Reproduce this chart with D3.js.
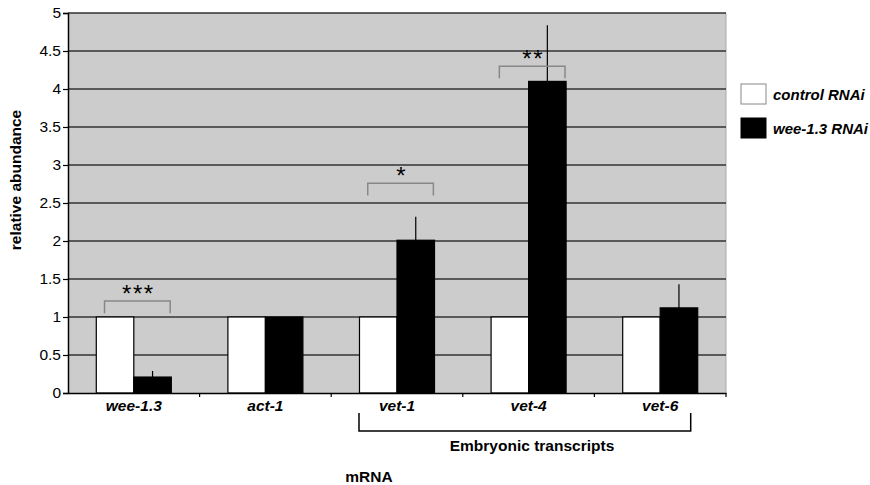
<!DOCTYPE html>
<html><head><meta charset="utf-8">
<script src="https://cdn.jsdelivr.net/npm/d3@7"></script>
<style>body{margin:0;background:#fff}svg{display:block}text{font-family:Arial,"Liberation Sans",sans-serif}</style>
</head><body><svg id="c" width="870" height="485"></svg>
<script>
const categories = ["wee-1.3","act-1","vet-1","vet-4","vet-6"];
const seriesNames = ["control RNAi","wee-1.3 RNAi"];
const controlValues = [1,1,1,1,1];
const weeValues = [0.21,1.0,2.01,4.1,1.12];
const weeErrors = [0.08,0,0.31,0.74,0.31];
const yTicks = [0,0.5,1,1.5,2,2.5,3,3.5,4,4.5,5];
const sigLabels = ["***","","*","**",""];
const sigLevels = [1.21,null,2.76,4.3,null];
const groupLabel = "Embryonic transcripts";

const svg = d3.select("#c");
const m = {l:68, r:726, t:13, b:393};
const x = d3.scaleBand().domain(categories).range([m.l,m.r]);
const inner = d3.scaleBand().domain([0,1]).range([x.bandwidth()*0.215, x.bandwidth()*0.785]);
const y = d3.scaleLinear().domain([0,5]).range([m.b,m.t]);
const FONT = "Arial,'Liberation Sans',sans-serif";

svg.append("rect").attr("x",m.l).attr("y",m.t).attr("width",m.r-m.l).attr("height",m.b-m.t).attr("fill","#cccccc");
svg.append("line").attr("x1",m.r).attr("x2",m.r).attr("y1",m.t).attr("y2",m.b).attr("stroke","#aaa").attr("stroke-width",1);
svg.append("g").selectAll("line").data(yTicks.slice(1)).join("line")
  .attr("x1",m.l).attr("x2",m.r).attr("y1",d=>y(d)).attr("y2",d=>y(d))
  .attr("stroke","#333").attr("stroke-width",1.6);

const g = svg.append("g");
categories.forEach((c,i)=>{
  const x0 = x(c);
  g.append("rect").attr("x",x0+inner(0)).attr("y",y(controlValues[i])).attr("width",inner.bandwidth()).attr("height",y(0)-y(controlValues[i]))
    .attr("fill","#fff").attr("stroke","#000").attr("stroke-width",1.2);
  g.append("rect").attr("x",x0+inner(1)).attr("y",y(weeValues[i])).attr("width",inner.bandwidth()).attr("height",y(0)-y(weeValues[i]))
    .attr("fill","#000").attr("stroke","#000").attr("stroke-width",1.2);
  if (weeErrors[i]>0){
    const cx = x0+inner(1)+inner.bandwidth()/2;
    g.append("line").attr("x1",cx).attr("x2",cx).attr("y1",y(weeValues[i])).attr("y2",y(weeValues[i]+weeErrors[i])).attr("stroke","#000").attr("stroke-width",1.2);
  }
  if (sigLabels[i]){
    const x1 = x0+inner(0)+inner.bandwidth()*0.22;
    const x2 = x0+inner(1)+inner.bandwidth()*0.97;
    const yb = y(sigLevels[i]), yd = y(sigLevels[i]-0.16);
    svg.append("path").attr("d",`M${x1},${yd}V${yb}H${x2}V${yd}`).attr("fill","none").attr("stroke","#888").attr("stroke-width",1.5);
    svg.append("text").attr("x",(x1+x2)/2+1).attr("y",yb+1).attr("text-anchor","middle").attr("font-size",24).attr("fill","#000").attr("letter-spacing",1.5).text(sigLabels[i]);
  }
});

// axes
const yAxis = d3.axisLeft(y).tickValues(yTicks).tickFormat(d=>String(d)).tickSize(5).tickPadding(2);
const ya = svg.append("g").attr("transform",`translate(${m.l},0)`).call(yAxis);
ya.select(".domain").attr("stroke","#000").attr("stroke-width",1.5);
ya.selectAll("line").attr("stroke","#000").attr("stroke-width",1.2);
ya.selectAll("text").attr("font-size",15.5).attr("fill","#000").attr("font-family",FONT);

const xa = svg.append("g").attr("transform",`translate(0,${m.b})`).call(d3.axisBottom(x).tickSize(0).tickPadding(7));
xa.select(".domain").attr("stroke","#000").attr("stroke-width",1.5);
xa.selectAll("text").attr("font-size",15.5).attr("font-weight","bold").attr("font-style","italic").attr("fill","#000").attr("font-family",FONT);
svg.append("g").selectAll("line").data(categories.slice(1)).join("line")
  .attr("x1",d=>x(d)).attr("x2",d=>x(d)).attr("y1",m.b).attr("y2",m.b+4).attr("stroke","#000").attr("stroke-width",1.2);
svg.append("line").attr("x1",m.r).attr("x2",m.r).attr("y1",m.b).attr("y2",m.b+4).attr("stroke","#000").attr("stroke-width",1.2);

// embryonic bracket
const ex1 = x("vet-1")+inner(0)-0.5, ex2 = x("vet-6")+inner(1)+inner.bandwidth()-7;
svg.append("path").attr("d",`M${ex1},413V431H${ex2}V413`).attr("fill","none").attr("stroke","#000").attr("stroke-width",1.5);
svg.append("text").attr("x",532).attr("y",451).attr("text-anchor","middle")
  .attr("font-size",15.5).attr("font-weight","bold").text(groupLabel);

// axis titles
svg.append("text").attr("x",369).attr("y",482).attr("text-anchor","middle").attr("font-size",15.5).attr("font-weight","bold").text("mRNA");
svg.append("text").attr("transform","translate(21,180) rotate(-90)").attr("text-anchor","middle").attr("font-size",15.5).attr("font-weight","bold").text("relative abundance");

// legend
const leg = svg.append("g").attr("transform","translate(741,84)");
seriesNames.forEach((s,i)=>{
  const gy = i*34;
  leg.append("rect").attr("x",0).attr("y",gy).attr("width",25).attr("height",20).attr("fill",i?"#000":"#fff").attr("stroke",i?"#000":"#888").attr("stroke-width",1);
  leg.append("text").attr("x",32).attr("y",gy+15.5).attr("font-size",15).attr("font-weight","bold").attr("font-style","italic").text(s);
});
</script></body></html>
